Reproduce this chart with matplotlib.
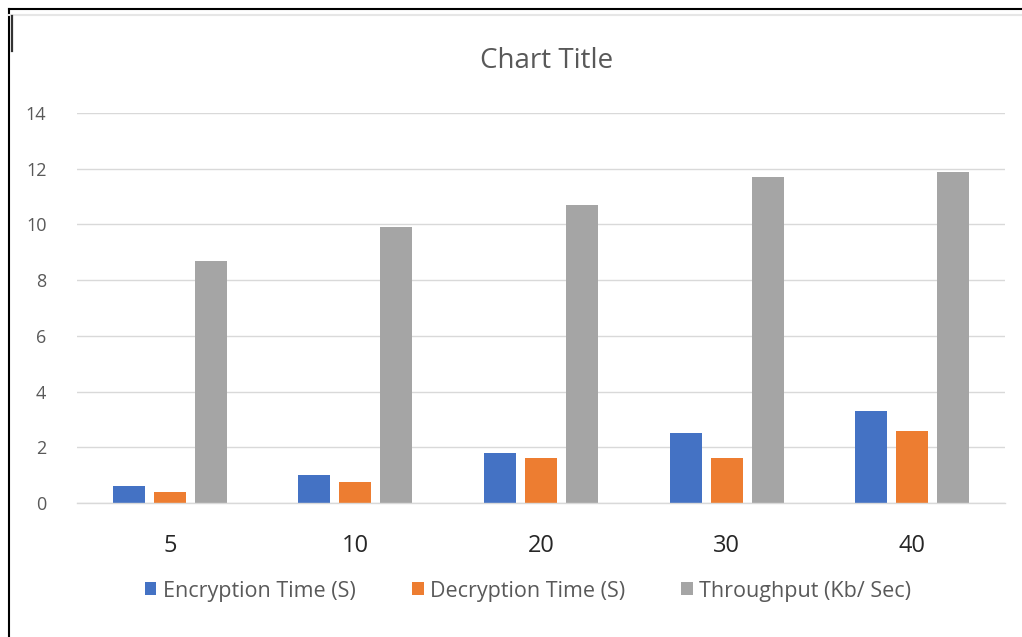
import matplotlib
matplotlib.use("Agg")
import matplotlib.pyplot as plt
from matplotlib.lines import Line2D
from matplotlib.patches import Patch
import numpy as np

categories = ["5", "10", "20", "30", "40"]
encryption = [0.6, 1.0, 1.8, 2.5, 3.3]
decryption = [0.4, 0.75, 1.6, 1.6, 2.6]
throughput = [8.7, 9.9, 10.7, 11.7, 11.9]
series_names = ["Encryption Time (S)", "Decryption Time (S)", "Throughput (Kb/ Sec)"]
y_ticks = [0, 2, 4, 6, 8, 10, 12, 14]

colors = ["#4472C4", "#ED7D31", "#A5A5A5"]
plt.rcParams["font.family"] = ["Open Sans", "DejaVu Sans"]

fig = plt.figure(figsize=(10.22, 6.37), dpi=100)
ax = fig.add_axes([77 / 1022, 1 - 503 / 637, (1005 - 77) / 1022, (503 - 113) / 637])

x = np.arange(len(categories))
width = 0.172
step = 0.221
for i, (vals, c) in enumerate(zip([encryption, decryption, throughput], colors)):
    ax.bar(x + (i - 1) * step, vals, width, color=c, zorder=3)

ax.set_xlim(-0.5, len(categories) - 0.5)
ax.set_ylim(0, 14)
ax.set_yticks(y_ticks)
ax.set_yticklabels([str(t) for t in y_ticks], fontsize=13, color="#595959")
ax.set_xticks(x)
ax.set_xticklabels(categories, fontsize=17, color="#262626")
ax.tick_params(axis="both", length=0)
ax.tick_params(axis="y", pad=22)
ax.tick_params(axis="x", pad=22)
ax.yaxis.grid(True, color="#D9D9D9", linewidth=1.0, zorder=0)
for s in ["top", "right", "left"]:
    ax.spines[s].set_visible(False)
ax.spines["bottom"].set_color("#D9D9D9")
ax.spines["bottom"].set_linewidth(1.0)
ax.spines["bottom"].set_zorder(4)

fig.text(547 / 1022, 1 - 61 / 637, "Chart Title", ha="center", va="center",
         fontsize=20, color="#595959")

handles = [Patch(facecolor=c, edgecolor="none") for c in colors]
fig.legend(handles, series_names, loc="center", bbox_to_anchor=(528 / 1022, 1 - 591 / 637),
           ncol=3, frameon=False, fontsize=15.5, labelcolor="#595959",
           handlelength=0.55, handleheight=0.55, handletextpad=0.3, columnspacing=2.6)

# outer frame lines and cursor mark
fig.add_artist(Line2D([9 / 1022, 9 / 1022], [0, 1 - 9 / 637], transform=fig.transFigure,
                      color="black", linewidth=1.5))
fig.add_artist(Line2D([9 / 1022, 1], [1 - 9 / 637, 1 - 9 / 637], transform=fig.transFigure,
                      color="black", linewidth=1.5))
fig.add_artist(Line2D([9 / 1022, 1], [1 - 15 / 637, 1 - 15 / 637], transform=fig.transFigure,
                      color="#E6E6E6", linewidth=1.5))
fig.add_artist(Line2D([12 / 1022, 12 / 1022], [1 - 16 / 637, 1 - 51 / 637], transform=fig.transFigure,
                      color="#333333", linewidth=1.6))

fig.savefig("out.png", dpi=100)
